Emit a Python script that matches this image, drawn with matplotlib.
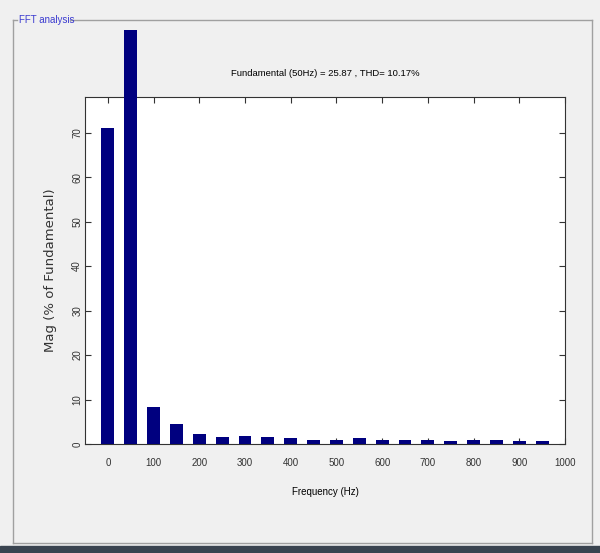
import matplotlib
matplotlib.use("Agg")
import matplotlib.pyplot as plt
from matplotlib.patches import Rectangle
from matplotlib.lines import Line2D

# harmonic frequencies (Hz) and magnitudes (% of fundamental)
freqs = [0, 50, 100, 150, 200, 250, 300, 350, 400, 450,
         500, 550, 600, 650, 700, 750, 800, 850, 900, 950]
mags = [71.0, 93.0, 8.3, 4.5, 2.2, 1.5, 1.9, 1.6, 1.3, 0.9,
        0.9, 1.3, 1.0, 0.9, 1.0, 0.6, 1.0, 1.0, 0.7, 0.6]

xticks = [0, 100, 200, 300, 400, 500, 600, 700, 800, 900, 1000]
yticks = [0, 10, 20, 30, 40, 50, 60, 70]

title = "Fundamental (50Hz) = 25.87 , THD= 10.17%"

plt.rcParams['font.family'] = ['Liberation Sans Narrow', 'Liberation Sans', 'DejaVu Sans']

fig = plt.figure(figsize=(6, 5.53), dpi=100, facecolor="#f0f0f0")

# panel frame like the GUI
W, H = 600, 553
def fx(x): return x / W
def fy(y): return 1 - y / H
fig.add_artist(Line2D([fx(13), fx(13)], [fy(20), fy(543)], color="#a0a0a0", lw=1))
fig.add_artist(Line2D([fx(13), fx(592)], [fy(543), fy(543)], color="#a0a0a0", lw=1))
fig.add_artist(Line2D([fx(592), fx(592)], [fy(20), fy(543)], color="#a0a0a0", lw=1))
fig.add_artist(Line2D([fx(13), fx(17)], [fy(20), fy(20)], color="#a0a0a0", lw=1))
fig.add_artist(Line2D([fx(70), fx(592)], [fy(20), fy(20)], color="#a0a0a0", lw=1))
fig.text(fx(19), fy(20), "FFT analysis", color="#3a3ad0", fontsize=7, va="center", ha="left")
# taskbar strip at the bottom
fig.add_artist(Rectangle((0, 0), 1, fy(546), transform=fig.transFigure,
                         color="#3a4450", zorder=0))

ax = fig.add_axes([85 / W, fy(444), 480 / W, (444 - 97) / H])
ax.set_facecolor("white")
ax.bar(freqs, mags, width=28, color="#00007f", clip_on=False, zorder=3)

ax.set_xlim(-50, 1000)
ax.set_ylim(0, 78)
ax.set_xticks(xticks)
ax.set_yticks(yticks)
ax.tick_params(direction="in", top=True, right=True, labelsize=7, length=4, colors="#333333")
ax.tick_params(axis="x", pad=10)
ax.tick_params(axis="y", pad=2)
for lbl in ax.get_yticklabels():
    lbl.set_rotation(90)
    lbl.set_va("center")
for s in ax.spines.values():
    s.set_color("#333333")
    s.set_linewidth(0.8)

ax.set_title(title, fontsize=6.8, pad=15)
ax.set_xlabel("Frequency (Hz)", fontsize=7, labelpad=14)
ax.set_ylabel("Mag (% of Fundamental)", fontsize=9.5, labelpad=11, family="DejaVu Sans",
              color="#333333")

fig.savefig("out.png", dpi=100, facecolor=fig.get_facecolor())
